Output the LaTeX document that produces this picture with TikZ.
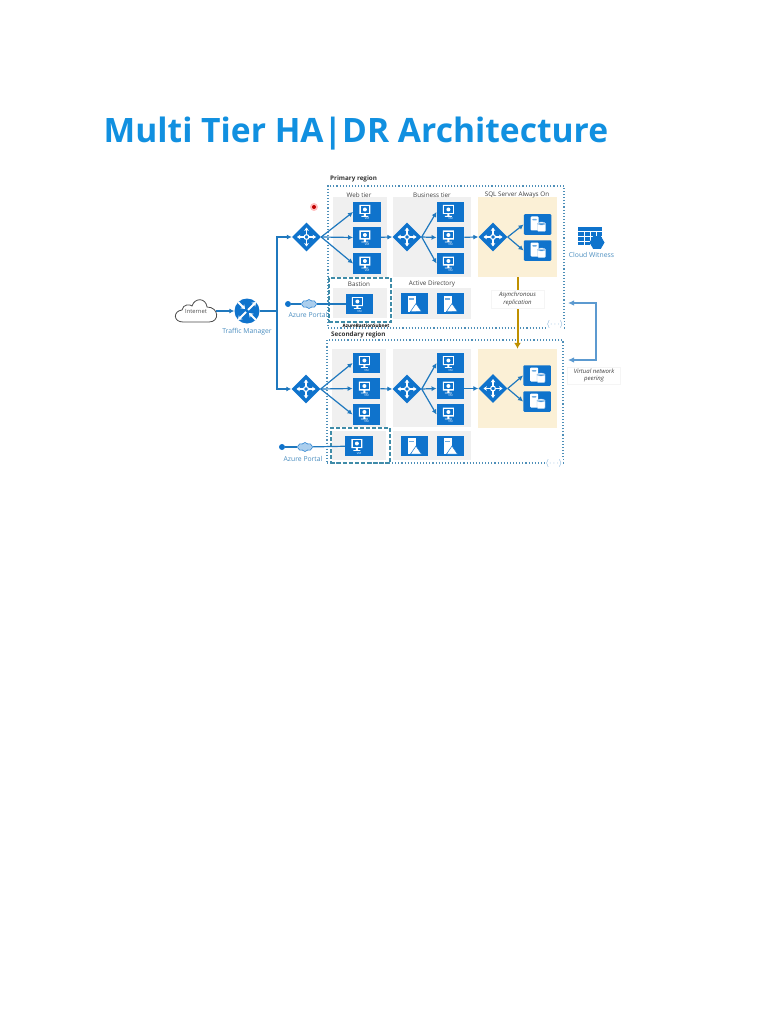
\documentclass[tikz,border=0pt]{standalone}
\usepackage{fontspec}
\setmainfont{Open Sans}
\usepackage{tikz}
\usetikzlibrary{shapes.geometric, shapes.symbols, arrows.meta, positioning}

\definecolor{azblue}{HTML}{0F73CC}
\definecolor{azline}{HTML}{1F78BE}
\definecolor{azdots}{HTML}{4E8FB8}
\definecolor{azpeer}{HTML}{5C9AD0}
\definecolor{aztitle}{HTML}{1190E0}
\definecolor{azlabel}{HTML}{4A8DBF}
\definecolor{azteal}{HTML}{3F8CA8}
\definecolor{azgold}{HTML}{BF9000}
\definecolor{azsand}{HTML}{FBF0D6}

\newcommand{\vmtag}{\smash{\raisebox{-8pt}{VM}}}

\tikzset{
  panel/.style={fill=black!6,inner sep=0pt},
  sqlpanel/.style={fill=azsand,inner sep=0pt},
  regionbox/.style={draw=azdots,dotted,line width=1.1pt,inner sep=0pt},
  subnetbox/.style={draw=azteal,dash pattern=on 4pt off 2pt,line width=1.3pt,inner sep=0pt},
  tierlabel/.style={font=\fontsize{6.3}{7}\selectfont,text=black!75,inner sep=0pt},
  regionlabel/.style={font=\fontsize{6.3}{7}\selectfont\bfseries,text=black!80,anchor=west,inner sep=0pt},
  bluelabel/.style={font=\fontsize{6.8}{7}\selectfont,text=azlabel,inner sep=0pt},
  notebox/.style={fill=white,draw=black!4,font=\fontsize{6}{7.4}\selectfont\itshape,text=black!75,align=center,inner sep=0pt},
  conn/.style={draw=azline,line width=1.2pt},
  arr/.style={conn,-{Latex[length=5pt,width=5pt]}},
  replarrow/.style={color=azgold,line width=2pt,-{Latex[length=6pt,width=7pt]}},
  vmbox/.style={fill=azblue,text=white,font=\fontsize{2.8}{3}\selectfont,minimum width=27.5pt,minimum height=20.5pt,inner sep=0pt,
    path picture={
      \fill[white,shift={(path picture bounding box.center)}] (-5.5,-7) rectangle (5.5,2) (-1,2) rectangle (1,4) (-3.5,4) rectangle (3.5,4.8);
      \fill[azblue,shift={(path picture bounding box.center)}] (-4.3,-5.8) rectangle (4.3,0.8);
      \fill[white,shift={(path picture bounding box.center)}] (0,-2.5) circle (2);
    }},
  sqlbox/.style={fill=azblue,minimum width=27.5pt,minimum height=20.5pt,inner sep=0pt,rounded corners=1pt,
    path picture={
      \fill[white,shift={(path picture bounding box.center)}] (-7,-8) rectangle (1,6);
      \fill[azblue!60,shift={(path picture bounding box.center)}] (-5.5,-5.5) rectangle (-0.5,-4);
      \draw[azblue!40,fill=white,line width=.4pt,shift={(path picture bounding box.center)}] (0,-1) rectangle (8,7) (4,-1) ellipse (4 and 1.5);
    }},
  adbox/.style={fill=azblue,minimum width=27.5pt,minimum height=20.5pt,inner sep=0pt,
    path picture={
      \fill[white,shift={(path picture bounding box.center)}] (-7,-8) rectangle (1,8);
      \fill[azblue!60,shift={(path picture bounding box.center)}] (-5.5,-5.5) rectangle (-0.5,-4);
      \fill[white,draw=azblue,line width=.5pt,shift={(path picture bounding box.center)}] (-4,8) -- (1.5,0) -- (7,8) -- cycle;
    }},
  lbnode/.style={diamond,fill=azblue,minimum width=29pt,minimum height=29pt,inner sep=0pt,
    path picture={
      \draw[white,line width=1.1pt,shift={(path picture bounding box.center)}] (0,0) circle (2.4);
      \draw[white,line width=1.1pt,-{Stealth[length=3.4pt,width=4.6pt]},shift={(path picture bounding box.center)}] (2.4,0) -- (9.5,0);
      \draw[white,line width=1.1pt,-{Stealth[length=3.4pt,width=4.6pt]},shift={(path picture bounding box.center)}] (-2.4,0) -- (-9.5,0);
      \draw[white,line width=1.1pt,-{Stealth[length=3.4pt,width=4.6pt]},shift={(path picture bounding box.center)}] (0,2.4) -- (0,9.5);
      \draw[white,line width=1.1pt,-{Stealth[length=3.4pt,width=4.6pt]},shift={(path picture bounding box.center)}] (0,-2.4) -- (0,-9.5);
    }},
  tmnode/.style={circle,fill=azblue,minimum size=25pt,inner sep=0pt,
    path picture={
      \draw[white,line width=1.9pt,-{Stealth[length=4pt,width=5.5pt]},shift={(path picture bounding box.center)}] (1,-1) -- (9,-9);
      \draw[white,line width=1.9pt,-{Stealth[length=4pt,width=5.5pt]},shift={(path picture bounding box.center)}] (-1,1) -- (-9,9);
      \draw[white,line width=1.9pt,-{Stealth[length=4pt,width=5.5pt]},shift={(path picture bounding box.center)}] (-10,-10) -- (-2,-2);
      \draw[white,line width=1.9pt,-{Stealth[length=4pt,width=5.5pt]},shift={(path picture bounding box.center)}] (10,10) -- (2,2);
    }},
  dotnode/.style={circle,fill=azblue,minimum size=6pt,inner sep=0pt},
  portalcloud/.style={cloud,cloud puffs=8,cloud puff arc=110,aspect=1.7,fill=azblue!35,draw=azblue!90,line width=.6pt,minimum width=15pt,minimum height=9pt,inner sep=0pt},
  subnetglyph/.style={fill=white,text=azpeer,font=\fontsize{8}{8}\selectfont,inner sep=.5pt}
}

\begin{document}
\begin{tikzpicture}[x=1pt,y=-1pt]
\useasboundingbox (0,0) rectangle (768,1024);

% Title
\node[font=\fontsize{33.6}{36}\selectfont\bfseries,text=aztitle,anchor=west,inner sep=0pt] (title) at (103.5,133.5) {Multi Tier HA|DR Architecture};

% Regions
\node[regionbox,minimum width=236pt,minimum height=142pt] (primary) at (446,257) {};
\node[regionbox,minimum width=236pt,minimum height=123pt] (secondary) at (445,401.5) {};
\node[regionlabel] (primarylabel) at (330,179) {Primary region};
\node[regionlabel] (secondarylabel) at (331,335) {Secondary region};

% Panels
\node[panel,minimum width=54pt,minimum height=80pt] (webp) at (360,237) {};
\node[panel,minimum width=78pt,minimum height=80pt] (bizp) at (432,237) {};
\node[sqlpanel,minimum width=79pt,minimum height=80pt] (sqlp) at (517.5,237) {};
\node[panel,minimum width=54pt,minimum height=30pt] (basp) at (360,303) {};
\node[panel,minimum width=78pt,minimum height=31pt] (adp) at (432,303.5) {};
\node[panel,minimum width=54pt,minimum height=78pt] (webs) at (359,388) {};
\node[panel,minimum width=78pt,minimum height=78pt] (bizs) at (432,388) {};
\node[sqlpanel,minimum width=79pt,minimum height=79pt] (sqls) at (517.5,388.5) {};
\node[panel,minimum width=54pt,minimum height=29pt] (bass) at (359,445.5) {};
\node[panel,minimum width=78pt,minimum height=29pt] (ads) at (432,445.5) {};
\node[subnetbox,minimum width=62pt,minimum height=44pt] (bastionp) at (360,300) {};
\node[subnetbox,minimum width=59pt,minimum height=35pt] (bastions) at (360.5,445.5) {};

% Tier labels
\node[tierlabel] (weblabel) at (359,195) {Web tier};
\node[tierlabel] (bizlabel) at (432,195) {Business tier};
\node[tierlabel] (sqllabel) at (517,195) {SQL Server Always On};
\node[tierlabel] (baslabel) at (359,284) {Bastion};
\node[tierlabel] (adlabel) at (432,284) {Active Directory};
\node[font=\fontsize{4.6}{5}\selectfont\bfseries,inner sep=0pt] (subnetlabel) at (366,325.5) {AzureBastionSubnet};

% VMs
\foreach \n/\y in {a/212,b/237.5,c/263.5} {
    \node[vmbox] (webvmp\n) at (367,\y) {\vmtag};
    \node[vmbox] (bizvmp\n) at (450.5,\y) {\vmtag};
}
\foreach \n/\y in {a/363,b/388.5,c/414.5} {
    \node[vmbox] (webvms\n) at (366.5,\y) {\vmtag};
    \node[vmbox] (bizvms\n) at (450.5,\y) {\vmtag};
}
\node[vmbox] (basvmp) at (359.5,304) {\vmtag};
\node[vmbox] (basvms) at (359,446) {\vmtag};

% Data and directory servers
\node[sqlbox] (sqlvmpa) at (537.5,224.5) {};
\node[sqlbox] (sqlvmpb) at (537.5,250.5) {};
\node[sqlbox] (sqlvmsa) at (537,375.5) {};
\node[sqlbox] (sqlvmsb) at (537,401.5) {};
\node[adbox] (adpa) at (414.5,303.5) {};
\node[adbox] (adpb) at (450.5,303.5) {};
\node[adbox] (adsa) at (414.5,446) {};
\node[adbox] (adsb) at (450.5,446) {};

% Load balancers
\node[lbnode] (lbwebp) at (306.5,237) {};
\node[lbnode] (lbbizp) at (407,237) {};
\node[lbnode] (lbsqlp) at (493,237) {};
\node[lbnode] (lbwebs) at (306,389) {};
\node[lbnode] (lbbizs) at (407,389) {};
\node[lbnode] (lbsqls) at (493,388.5) {};

% Entry points
\draw[draw=black!70,fill=white,line width=.8pt] (183,322) .. controls (173,322) and (173,311) .. (182,310)
  .. controls (183,304) and (190,304) .. (192,306) .. controls (195,297) and (206,298) .. (207,307)
  .. controls (219,307) and (220,322) .. (209,322) -- cycle;
\node[minimum width=40pt,minimum height=22pt,inner sep=0pt,text=black!70,font=\fontsize{5.8}{6}\selectfont] (internet) at (196,311) {\raisebox{-4pt}{Internet}};
\node[tmnode] (traffic) at (247,311) {};
\node[bluelabel] (trafficlabel) at (247,331.5) {Traffic Manager};
\coordinate (trunk) at (277,311);

% Portals
\node[dotnode] (dotp) at (288,304) {};
\node[portalcloud] (cloudp) at (309,304) {};
\node[bluelabel] (portalp) at (308,314.5) {Azure Portal};
\node[dotnode] (dots) at (282,447) {};
\node[portalcloud] (clouds) at (305,447) {};
\node[bluelabel] (portals) at (303,458.5) {Azure Portal};

% Connectors
\draw[arr] (internet) -- (traffic);
\draw[conn] (traffic) -- (trunk);
\draw[arr] (trunk) |- (lbwebp.west);
\draw[arr] (trunk) |- (lbwebs.west);
\foreach \r in {p,s} {
    \foreach \n in {a,b,c} {
        \draw[arr] (lbweb\r.east) -- (webvm\r\n.west);
        \draw[arr] (lbbiz\r.east) -- (bizvm\r\n.west);
    }
    \draw[arr] (webvm\r b) -- (lbbiz\r.west);
    \draw[arr] (bizvm\r b) -- (lbsql\r.west);
    \draw[arr] (lbsql\r.east) -- (sqlvm\r a.west);
    \draw[arr] (lbsql\r.east) -- (sqlvm\r b.west);
    \draw[conn] (dot\r) -- (cloud\r);
    \draw[conn] (cloud\r) -- (basvm\r);
}

% Replication and peering
\draw[replarrow] (sqlp.south) -- (sqls.north);
\node[notebox,minimum width=53pt,minimum height=18pt] (asyncnote) at (517.5,299) {Asynchronous\\replication};
\coordinate (peerp) at (568,303);
\coordinate (peers) at (568,360);
\coordinate (peerx) at (596,303);
\coordinate (peery) at (596,360);
\draw[draw=azpeer,line width=1.2pt,{Latex[length=6pt,width=5.5pt]}-{Latex[length=6pt,width=5.5pt]}] (peerp) -- (peerx) -- (peery) -- (peers);
\node[notebox,minimum width=53pt,minimum height=17pt] (peernote) at (594,375.5) {Virtual network\\peering};

% Cloud witness
\node[fill=azblue,minimum width=24pt,minimum height=18pt,inner sep=0pt,
  path picture={
    \foreach \i in {-6,0,6} {\draw[white,line width=.5pt,shift={(path picture bounding box.center)}] (\i,-5) -- (\i,9);}
    \foreach \i in {-5,0,5} {\draw[white,line width=.5pt,shift={(path picture bounding box.center)}] (-12,\i) -- (12,\i);}
  }] (cwtable) at (590,236) {};
\node[regular polygon,regular polygon sides=6,fill=azblue,minimum size=15pt,inner sep=0pt] (cwhex) at (597,242.5) {};
\node[bluelabel] (cwlabel) at (591.5,254.5) {Cloud Witness};

% Subnet marks
\node[subnetglyph] (subnetp) at (555,324) {$\langle\cdots\rangle$};
\node[subnetglyph] (subnets) at (554,463) {$\langle\cdots\rangle$};

% Pointer dot
\node[circle,fill=red!25,minimum size=8pt,inner sep=0pt] (pointerglow) at (314,207) {};
\node[circle,fill=red!75!black,minimum size=4pt,inner sep=0pt] (pointer) at (314,207) {};
\end{tikzpicture}
\end{document}
